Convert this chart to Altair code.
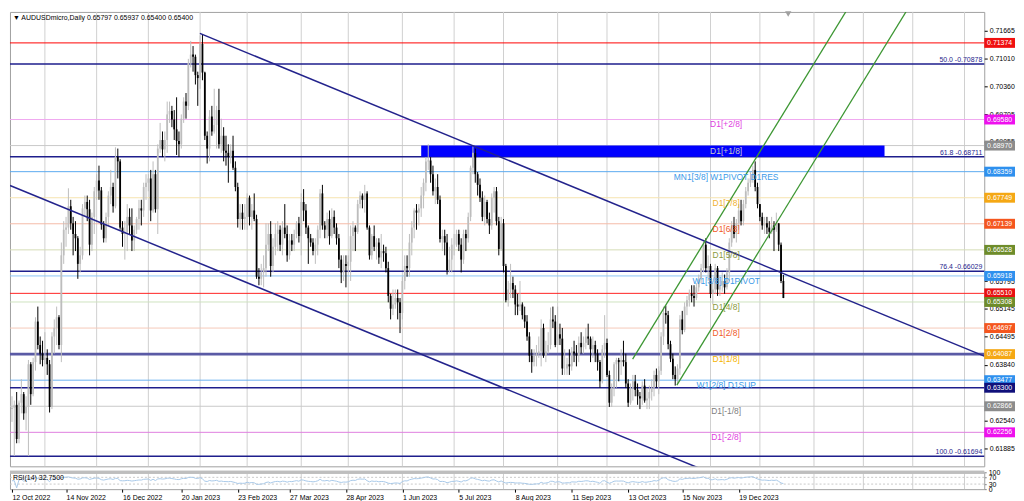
import altair as alt
import pandas as pd
import numpy as np

# ---------------- data ----------------
header_text = "\u25BC AUDUSDmicro,Daily  0.65797 0.65937 0.65400 0.65400"
rsi_text = "RSI(14) 32.7500"
start_date = "2022-10-12"
first_open = 0.6280

closes = [
    0.6283, 0.6290, 0.6210, 0.6295, 0.6315, 0.6270, 0.6285, 0.6385, 0.6315, 0.6390,
    0.6485, 0.6430, 0.6410, 0.6395, 0.6400, 0.6385, 0.6285, 0.6450, 0.6470, 0.6495,
    0.6430, 0.6640, 0.6700, 0.6705, 0.6755, 0.6715, 0.6690, 0.6680, 0.6620, 0.6640,
    0.6750, 0.6765, 0.6748, 0.6665, 0.6730, 0.6790, 0.6815, 0.6792, 0.6712, 0.6680,
    0.6730, 0.6780, 0.6800, 0.6755, 0.6870, 0.6860, 0.6705, 0.6690, 0.6695, 0.6730,
    0.6710, 0.6675, 0.6700, 0.6725, 0.6750, 0.6745, 0.6800, 0.6810, 0.6820, 0.6745,
    0.6830, 0.6748, 0.6890, 0.6910, 0.6888, 0.6910, 0.6970, 0.6978, 0.6958, 0.6935,
    0.6908, 0.6900, 0.6960, 0.7000, 0.6990, 0.7090, 0.7110, 0.7105, 0.7062, 0.7055,
    0.7135, 0.7068, 0.6920, 0.6890, 0.6965, 0.6930, 0.6945, 0.6980, 0.6900, 0.6920,
    0.6885, 0.6880, 0.6870, 0.6885, 0.6845, 0.6800, 0.6725, 0.6740, 0.6725, 0.6730,
    0.6775, 0.6730, 0.6745, 0.6725, 0.6590, 0.6585, 0.6600, 0.6610, 0.6665, 0.6690,
    0.6615, 0.6660, 0.6690, 0.6700, 0.6665, 0.6705, 0.6690, 0.6640, 0.6675, 0.6665,
    0.6690, 0.6715, 0.6685, 0.6765, 0.6745, 0.6705, 0.6680, 0.6670, 0.6650, 0.6665,
    0.6700, 0.6785, 0.6710, 0.6700, 0.6725, 0.6685, 0.6730, 0.6705, 0.6680, 0.6630,
    0.6600, 0.6620, 0.6615, 0.6625, 0.6685, 0.6705, 0.6695, 0.6760, 0.6780, 0.6770,
    0.6785, 0.6705, 0.6640, 0.6685, 0.6660, 0.6670, 0.6635, 0.6650, 0.6645, 0.6610,
    0.6545, 0.6515, 0.6525, 0.6540, 0.6530, 0.6505, 0.6580, 0.6615, 0.6610, 0.6670,
    0.6705, 0.6745, 0.6740, 0.6750, 0.6780, 0.6810, 0.6860, 0.6862, 0.6830, 0.6790,
    0.6800, 0.6770, 0.6678, 0.6685, 0.6670, 0.6605, 0.6630, 0.6665, 0.6665, 0.6690,
    0.6665, 0.6630, 0.6690, 0.6680, 0.6730, 0.6845, 0.6880, 0.6830, 0.6805, 0.6775,
    0.6730, 0.6765, 0.6725, 0.6710, 0.6775, 0.6790, 0.6720, 0.6655, 0.6715, 0.6615,
    0.6535, 0.6560, 0.6575, 0.6560, 0.6525, 0.6520, 0.6525, 0.6500, 0.6485, 0.6450,
    0.6405, 0.6390, 0.6405, 0.6410, 0.6415, 0.6470, 0.6405, 0.6415, 0.6430, 0.6490,
    0.6485, 0.6430, 0.6455, 0.6445, 0.6375, 0.6375, 0.6385, 0.6380, 0.6415, 0.6410,
    0.6405, 0.6435, 0.6425, 0.6435, 0.6450, 0.6445, 0.6420, 0.6430, 0.6410, 0.6390,
    0.6345, 0.6420, 0.6435, 0.6360, 0.6295, 0.6330, 0.6385, 0.6395, 0.6390, 0.6395,
    0.6390, 0.6340, 0.6295, 0.6330, 0.6345, 0.6325, 0.6310, 0.6305, 0.6335, 0.6300,
    0.6305, 0.6320, 0.6330, 0.6360, 0.6345, 0.6370, 0.6450, 0.6505, 0.6500, 0.6432,
    0.6398, 0.6360, 0.6350, 0.6375, 0.6490, 0.6465, 0.6520, 0.6535, 0.6550, 0.6545,
    0.6540, 0.6565, 0.6585, 0.6610, 0.6665, 0.6610, 0.6615, 0.6550, 0.6560, 0.6610,
    0.6560, 0.6570, 0.6580, 0.6565, 0.6600, 0.6670, 0.6710, 0.6690, 0.6715, 0.6745,
    0.6720, 0.6760, 0.6790, 0.6810, 0.6820, 0.6840, 0.6800, 0.6760, 0.6730, 0.6710,
    0.6715, 0.6705, 0.6695, 0.6710, 0.6700, 0.6715, 0.6665, 0.6580, 0.6540,
]

highs = [
    0.6310, 0.6300, 0.6320, 0.6300, 0.6350, 0.6320, 0.6310, 0.6395, 0.6390, 0.6400,
    0.6495, 0.6520, 0.6450, 0.6440, 0.6460, 0.6420, 0.6395, 0.6460, 0.6490, 0.6520,
    0.6500, 0.6670, 0.6720, 0.6730, 0.6797, 0.6770, 0.6730, 0.6720, 0.6685, 0.6660,
    0.6760, 0.6780, 0.6780, 0.6770, 0.6740, 0.6800, 0.6830, 0.6850, 0.6800, 0.6720,
    0.6740, 0.6790, 0.6840, 0.6810, 0.6893, 0.6890, 0.6865, 0.6720, 0.6720, 0.6760,
    0.6750, 0.6750, 0.6710, 0.6730, 0.6770, 0.6770, 0.6810, 0.6830, 0.6830, 0.6840,
    0.6860, 0.6840, 0.6900, 0.6950, 0.6930, 0.6930, 0.7000, 0.7000, 0.6990, 0.6980,
    0.7010, 0.6930, 0.6970, 0.7010, 0.7020, 0.7100, 0.7142, 0.7130, 0.7110, 0.7070,
    0.7155, 0.7158, 0.7070, 0.6930, 0.6980, 0.6990, 0.7030, 0.6990, 0.7030, 0.6960,
    0.6940, 0.6920, 0.6900, 0.6900, 0.6920, 0.6860, 0.6810, 0.6760, 0.6760, 0.6760,
    0.6785, 0.6780, 0.6760, 0.6785, 0.6735, 0.6610, 0.6620, 0.6640, 0.6715, 0.6715,
    0.6720, 0.6680, 0.6715, 0.6720, 0.6710, 0.6720, 0.6760, 0.6710, 0.6690, 0.6690,
    0.6700, 0.6720, 0.6730, 0.6785, 0.6795, 0.6760, 0.6710, 0.6690, 0.6680, 0.6680,
    0.6710, 0.6795, 0.6805, 0.6720, 0.6740, 0.6745, 0.6750, 0.6745, 0.6715, 0.6690,
    0.6640, 0.6640, 0.6640, 0.6640, 0.6710, 0.6720, 0.6710, 0.6770, 0.6790, 0.6785,
    0.6805, 0.6790, 0.6710, 0.6690, 0.6710, 0.6680, 0.6680, 0.6690, 0.6665, 0.6660,
    0.6625, 0.6550, 0.6560, 0.6560, 0.6560, 0.6540, 0.6590, 0.6640, 0.6640, 0.6690,
    0.6720, 0.6750, 0.6760, 0.6760, 0.6800, 0.6820, 0.6870, 0.6900, 0.6870, 0.6850,
    0.6820, 0.6830, 0.6780, 0.6700, 0.6700, 0.6690, 0.6660, 0.6680, 0.6690, 0.6700,
    0.6700, 0.6680, 0.6700, 0.6700, 0.6740, 0.6850, 0.6895, 0.6890, 0.6835, 0.6820,
    0.6790, 0.6780, 0.6770, 0.6740, 0.6785, 0.6800, 0.6800, 0.6730, 0.6730, 0.6725,
    0.6620, 0.6580, 0.6620, 0.6590, 0.6570, 0.6550, 0.6580, 0.6530, 0.6520, 0.6500,
    0.6460, 0.6420, 0.6420, 0.6430, 0.6450, 0.6490, 0.6480, 0.6440, 0.6460, 0.6518,
    0.6520, 0.6500, 0.6520, 0.6480, 0.6470, 0.6420, 0.6400, 0.6420, 0.6425, 0.6440,
    0.6430, 0.6450, 0.6460, 0.6450, 0.6470, 0.6480, 0.6450, 0.6450, 0.6440, 0.6420,
    0.6395, 0.6430, 0.6500, 0.6445, 0.6370, 0.6340, 0.6390, 0.6400, 0.6400, 0.6420,
    0.6440, 0.6410, 0.6350, 0.6340, 0.6360, 0.6360, 0.6340, 0.6320, 0.6345, 0.6350,
    0.6330, 0.6335, 0.6350, 0.6370, 0.6375, 0.6380, 0.6460, 0.6520, 0.6522, 0.6510,
    0.6440, 0.6410, 0.6380, 0.6385, 0.6500, 0.6510, 0.6530, 0.6545, 0.6560, 0.6570,
    0.6570, 0.6575, 0.6595, 0.6620, 0.6675, 0.6680, 0.6640, 0.6620, 0.6575, 0.6620,
    0.6615, 0.6590, 0.6600, 0.6595, 0.6610, 0.6680, 0.6720, 0.6730, 0.6725, 0.6760,
    0.6770, 0.6770, 0.6800, 0.6820, 0.6835, 0.6850, 0.6860, 0.6810, 0.6760, 0.6740,
    0.6730, 0.6730, 0.6720, 0.6730, 0.6720, 0.6740, 0.6710, 0.6670, 0.6594,
]

lows = [
    0.6250, 0.6170, 0.6200, 0.6200, 0.6270, 0.6255, 0.6230, 0.6170, 0.6290, 0.6310,
    0.6370, 0.6420, 0.6385, 0.6380, 0.6385, 0.6360, 0.6272, 0.6280, 0.6410, 0.6430,
    0.6420, 0.6390, 0.6620, 0.6660, 0.6690, 0.6700, 0.6640, 0.6650, 0.6585, 0.6600,
    0.6630, 0.6730, 0.6720, 0.6640, 0.6650, 0.6690, 0.6770, 0.6770, 0.6700, 0.6670,
    0.6670, 0.6710, 0.6760, 0.6740, 0.6750, 0.6820, 0.6700, 0.6660, 0.6630, 0.6650,
    0.6690, 0.6650, 0.6650, 0.6690, 0.6700, 0.6710, 0.6730, 0.6770, 0.6790, 0.6720,
    0.6740, 0.6740, 0.6690, 0.6880, 0.6870, 0.6860, 0.6880, 0.6950, 0.6940, 0.6910,
    0.6875, 0.6870, 0.6890, 0.6950, 0.6960, 0.6980, 0.7080, 0.7070, 0.7040, 0.6990,
    0.7030, 0.7050, 0.6910, 0.6855, 0.6860, 0.6920, 0.6925, 0.6890, 0.6890, 0.6880,
    0.6860, 0.6850, 0.6810, 0.6855, 0.6840, 0.6790, 0.6705, 0.6700, 0.6700, 0.6700,
    0.6700, 0.6710, 0.6700, 0.6720, 0.6585, 0.6570, 0.6570, 0.6565, 0.6590, 0.6650,
    0.6590, 0.6600, 0.6640, 0.6650, 0.6650, 0.6640, 0.6680, 0.6625, 0.6630, 0.6650,
    0.6650, 0.6680, 0.6670, 0.6640, 0.6720, 0.6690, 0.6620, 0.6660, 0.6640, 0.6620,
    0.6640, 0.6680, 0.6700, 0.6680, 0.6680, 0.6665, 0.6680, 0.6690, 0.6665, 0.6610,
    0.6575, 0.6580, 0.6565, 0.6600, 0.6580, 0.6650, 0.6650, 0.6690, 0.6750, 0.6750,
    0.6740, 0.6700, 0.6630, 0.6630, 0.6650, 0.6630, 0.6620, 0.6610, 0.6625, 0.6600,
    0.6530, 0.6490, 0.6500, 0.6515, 0.6490, 0.6458, 0.6490, 0.6560, 0.6590, 0.6590,
    0.6640, 0.6680, 0.6700, 0.6710, 0.6730, 0.6750, 0.6790, 0.6840, 0.6810, 0.6780,
    0.6760, 0.6760, 0.6670, 0.6650, 0.6640, 0.6595, 0.6600, 0.6600, 0.6640, 0.6660,
    0.6650, 0.6600, 0.6620, 0.6650, 0.6670, 0.6720, 0.6830, 0.6810, 0.6780, 0.6765,
    0.6720, 0.6710, 0.6715, 0.6690, 0.6700, 0.6740, 0.6710, 0.6640, 0.6650, 0.6600,
    0.6530, 0.6520, 0.6540, 0.6540, 0.6500, 0.6500, 0.6510, 0.6490, 0.6470, 0.6440,
    0.6390, 0.6365, 0.6380, 0.6380, 0.6400, 0.6380, 0.6400, 0.6390, 0.6410, 0.6420,
    0.6470, 0.6425, 0.6440, 0.6430, 0.6360, 0.6360, 0.6360, 0.6360, 0.6370, 0.6390,
    0.6380, 0.6390, 0.6410, 0.6410, 0.6420, 0.6430, 0.6390, 0.6400, 0.6390, 0.6370,
    0.6330, 0.6340, 0.6400, 0.6355, 0.6285, 0.6285, 0.6310, 0.6330, 0.6345, 0.6360,
    0.6380, 0.6330, 0.6285, 0.6290, 0.6300, 0.6310, 0.6290, 0.6280, 0.6290, 0.6295,
    0.6280, 0.6280, 0.6300, 0.6310, 0.6330, 0.6315, 0.6360, 0.6430, 0.6480, 0.6420,
    0.6390, 0.6350, 0.6335, 0.6338, 0.6360, 0.6455, 0.6460, 0.6500, 0.6520, 0.6530,
    0.6520, 0.6535, 0.6555, 0.6575, 0.6600, 0.6600, 0.6580, 0.6540, 0.6525, 0.6550,
    0.6545, 0.6545, 0.6555, 0.6550, 0.6560, 0.6580, 0.6660, 0.6680, 0.6670, 0.6700,
    0.6710, 0.6710, 0.6750, 0.6780, 0.6800, 0.6810, 0.6790, 0.6750, 0.6720, 0.6700,
    0.6690, 0.6690, 0.6680, 0.6690, 0.6650, 0.6695, 0.6650, 0.6575, 0.6540,
]

# horizontal levels
level_prices = [0.71374, 0.70878, 0.69580, 0.68970, 0.68711, 0.68359, 0.67749, 0.67139,
                0.66528, 0.66029, 0.65918, 0.65510, 0.65308, 0.64697, 0.64087, 0.64087,
                0.63477, 0.63300, 0.62866, 0.62256, 0.61694]
level_colors = ["#FF0000", "#1E1E8C", "#F0A8F0", "#C8C8C8", "#1E1E8C", "#5AAAF0", "#F5E3B0", "#F5BBA8",
                "#D5DCB5", "#1E1E8C", "#8CC4F5", "#FF2020", "#CFE3C0", "#F5C8B8", "#F5E3B0", "#5A5AA5",
                "#6AB0F0", "#1E1E8C", "#C8C8C8", "#E080E0", "#1E1E8C"]
level_widths = [1, 1.5, 1, 1, 1.5, 1, 1, 1,
                1, 1.5, 1, 1, 1, 1, 1, 3,
                1, 1.5, 1, 1, 1.5]

# price tags on the right scale
tag_prices = [0.71374, 0.69580, 0.68970, 0.68359, 0.67749, 0.67139, 0.66528, 0.65918,
              0.65510, 0.65308, 0.64697, 0.64087, 0.63477, 0.63300, 0.62866, 0.62256]
tag_colors = ["#F01010", "#EE10EE", "#8C8C8C", "#2E90EE", "#F5A814", "#F5561E", "#6E8C2A", "#2E90EE",
              "#E81010", "#6E8C2A", "#F5561E", "#F5A814", "#2E90EE", "#10107A", "#8C8C8C", "#EE10EE"]

# Murrey math labels
mm_texts = ["D1[+2/8]", "D1[+1/8]", "MN1[3/8] W1PIVOT D1RES", "D1[7/8]", "D1[6/8]", "D1[5/8]",
            "W1[3/8] D1PIVOT", "D1[4/8]", "D1[2/8]", "D1[1/8]", "W1[2/8] D1SUP", "D1[-1/8]", "D1[-2/8]"]
mm_prices = [0.69580, 0.68970, 0.68359, 0.67749, 0.67139, 0.66528,
             0.65918, 0.65308, 0.64697, 0.64087, 0.63477, 0.62866, 0.62256]
mm_colors = ["#E040E0", "#C8C8C8", "#3A9AE8", "#F0B030", "#F05A28", "#8A9A40",
             "#3A9AE8", "#8A9A40", "#F05A28", "#F5B400", "#3A9AE8", "#808080", "#E040E0"]

# Fibonacci labels
fib_texts = ["50.0 -0.70878", "61.8 -0.68711", "76.4 -0.66029", "100.0 -0.61694"]
fib_prices = [0.70878, 0.68711, 0.66029, 0.61694]

# trend lines (bar index, price)
trend_x1 = [79.9, -0.84, 263.9, 282.7]
trend_y1 = [0.71597, 0.68035, 0.63972, 0.63362]
trend_x2 = [413.4, 293.3, 354.5, 380.1]
trend_y2 = [0.64040, 0.61392, 0.72099, 0.72099]
trend_colors = ["#23238C", "#23238C", "#3C9632", "#3C9632"]
trend_widths = [1.5, 1.5, 1.3, 1.3]

# blue zone
zone_x = [174, 371]
zone_y = [0.68711, 0.68970]

# right-scale labels that are not entirely hidden under the price tags
price_ticks = [0.71665, 0.71010, 0.70360, 0.69705, 0.69055, 0.68405,
               0.65795, 0.65145, 0.64495, 0.63840, 0.62540, 0.61885]
date_labels = ["12 Oct 2022", "14 Nov 2022", "16 Dec 2022", "20 Jan 2023", "23 Feb 2023",
               "27 Mar 2023", "28 Apr 2023", "1 Jun 2023", "5 Jul 2023", "8 Aug 2023",
               "11 Sep 2023", "13 Oct 2023", "15 Nov 2023", "19 Dec 2023"]
rsi_ticks = [0, 30, 70, 100]

# ---------------- layout constants ----------------
W = 982
H_MAIN = 458
H_RSI = 17
X_MIN, X_MAX = -0.84, 413.4
Y_MIN, Y_MAX = 0.61460, 0.72099
FONT = "Liberation Sans"

# ---------------- derived tables ----------------
n = min(len(closes), len(highs), len(lows))
opens = [first_open] + closes[:n - 1]
cdf = pd.DataFrame({
    "i": np.arange(n),
    "open": opens[:n],
    "close": closes[:n],
})
cdf["high"] = np.maximum.reduce([np.array(highs[:n]), cdf["open"].values, cdf["close"].values])
cdf["low"] = np.minimum.reduce([np.array(lows[:n]), cdf["open"].values, cdf["close"].values])
cdf["top"] = cdf[["open", "close"]].max(axis=1)
cdf["bot"] = cdf[["open", "close"]].min(axis=1)
cdf["col"] = np.where(cdf["close"] >= cdf["open"], "#BDBDBD", "#000000")

cs = pd.Series(closes[:n])
d = cs.diff().fillna(0)
up = d.clip(lower=0).ewm(alpha=1 / 14, adjust=False).mean()
dn = (-d.clip(upper=0)).ewm(alpha=1 / 14, adjust=False).mean()
rsi = (100 - 100 / (1 + up / dn.replace(0, np.nan))).fillna(50)
rdf = pd.DataFrame({"i": np.arange(n), "rsi": rsi.values})

dates = pd.bdate_range(start_date, periods=430)
pos = {dt: k for k, dt in enumerate(dates)}
label_idx = [pos[pd.to_datetime(s, format="%d %b %Y")] for s in date_labels]
month_idx = [k for k in range(1, len(dates))
             if dates[k].month != dates[k - 1].month and k <= X_MAX]
gdf = pd.DataFrame({"i": month_idx})

label_expr = " : ".join([f"datum.value == {k} ? '{s}'" for k, s in zip(label_idx, date_labels)]) + " : ''"

ldf = pd.DataFrame({"p": level_prices, "c": level_colors, "w": level_widths})
tdf = pd.DataFrame({"p": tag_prices, "c": tag_colors,
                    "t": [f"{v:.5f}" for v in tag_prices]})
mdf = pd.DataFrame({"p": mm_prices, "t": mm_texts, "c": mm_colors})
fdf = pd.DataFrame({"p": fib_prices, "t": fib_texts})
trdf = pd.DataFrame({"x1": trend_x1, "y1": trend_y1, "x2": trend_x2, "y2": trend_y2,
                     "c": trend_colors, "w": trend_widths})
zdf = pd.DataFrame({"x1": [zone_x[0]], "x2": [zone_x[1]], "y1": [zone_y[0]], "y2": [zone_y[1]]})
hdf = pd.DataFrame({"t": [header_text]})
rtdf = pd.DataFrame({"t": [rsi_text]})
rlev = pd.DataFrame({"v": [30, 70]})

xs = alt.Scale(domain=[X_MIN, X_MAX], nice=False, zero=False)
ys = alt.Scale(domain=[Y_MIN, Y_MAX], nice=False, zero=False)
yaxis = alt.Axis(orient="right", values=price_ticks, format=".5f", title=None, grid=False,
                 domain=False, tickSize=3, tickColor="#000000", labelPadding=2,
                 labelFontSize=7, labelFont=FONT, labelColor="#000000", labelOverlap=False)


def X(f):
    return alt.X(f, type="quantitative", scale=xs, axis=None)


def Y(f):
    return alt.Y(f, type="quantitative", scale=ys, axis=yaxis)


grid = alt.Chart(gdf).mark_rule(color="#CFCFCF", strokeWidth=1).encode(x=X("i"))

levels = alt.Chart(ldf).mark_rule().encode(
    y=Y("p"), color=alt.Color("c:N", scale=None), strokeWidth=alt.StrokeWidth("w:Q", scale=None))

zone = alt.Chart(zdf).mark_rect(color="#0000FF", clip=True).encode(
    x=X("x1"), x2="x2", y=Y("y1"), y2="y2")

wicks = alt.Chart(cdf).mark_rule(strokeWidth=1).encode(
    x=X("i"), y=Y("low"), y2="high", color=alt.Color("col:N", scale=None))
bodies = alt.Chart(cdf).mark_rule(strokeWidth=1.8).encode(
    x=X("i"), y=Y("bot"), y2="top", color=alt.Color("col:N", scale=None))

trends = alt.Chart(trdf).mark_rule(clip=True).encode(
    x=X("x1"), y=Y("y1"), x2="x2", y2="y2",
    color=alt.Color("c:N", scale=None), strokeWidth=alt.StrokeWidth("w:Q", scale=None))

mm_lab = alt.Chart(mdf).mark_text(fontSize=8.5, font=FONT, align="center", baseline="middle", dy=5).encode(
    x=alt.value(W * 727 / 989), y=Y("p"), text="t:N", color=alt.Color("c:N", scale=None))

fib_lab = alt.Chart(fdf).mark_text(fontSize=7, font=FONT, align="right", baseline="bottom", dy=-1,
                                   color="#1E1E8C").encode(
    x=alt.value(W - 2), y=Y("p"), text="t:N")

tag_box = alt.Chart(tdf).mark_point(shape="M-1.55,-0.5H1.55V0.5H-1.55Z", size=400, filled=True,
                                    opacity=1, strokeWidth=0).encode(
    x=alt.value(W + 15.5), y=Y("p"), color=alt.Color("c:N", scale=None))
tag_txt = alt.Chart(tdf).mark_text(fontSize=7, font=FONT, color="#FFFFFF", align="center",
                                   baseline="middle").encode(
    x=alt.value(W + 15.5), y=Y("p"), text="t:N")

header = alt.Chart(hdf).mark_text(fontSize=7, font=FONT, color="#000000", align="left",
                                  baseline="middle").encode(
    x=alt.value(3), y=alt.value(6), text="t:N")

shift_mark = alt.Chart(hdf).mark_point(shape="triangle-down", filled=True, color="#A0A0A0",
                                       size=40, opacity=1).encode(
    x=alt.value(W * 790 / 989), y=alt.value(2))

main = alt.layer(grid, levels, zone, wicks, bodies, trends, mm_lab, fib_lab,
                 tag_box, tag_txt, header, shift_mark).properties(width=W, height=H_MAIN)

# ---------------- RSI panel ----------------
rxs_axis = alt.Axis(values=label_idx, labelExpr=label_expr, labelAlign="left", labelFontSize=7,
                    labelFont=FONT, labelColor="#000000", tickSize=3, tickColor="#000000",
                    labelPadding=1, grid=False, domain=False, title=None,
                    labelOverlap=False, labelFlush=False)
ry_axis = alt.Axis(orient="right", values=rsi_ticks, title=None, grid=False, domain=False,
                   tickSize=2, labelFontSize=7, labelFont=FONT, labelColor="#000000",
                   labelPadding=2, labelOverlap=False, labelFlush=False)
rys = alt.Scale(domain=[0, 100], nice=False, zero=False)

r_grid = alt.Chart(gdf).mark_rule(color="#CFCFCF", strokeWidth=1).encode(
    x=alt.X("i:Q", scale=xs, axis=rxs_axis))
r_lev = alt.Chart(rlev).mark_rule(color="#C8C8C8", strokeDash=[2, 2], strokeWidth=1).encode(
    y=alt.Y("v:Q", scale=rys, axis=ry_axis))
r_line = alt.Chart(rdf).mark_line(color="#A8C8E8", strokeWidth=1).encode(
    x=alt.X("i:Q", scale=xs, axis=rxs_axis), y=alt.Y("rsi:Q", scale=rys, axis=ry_axis))
r_sep = alt.Chart(rlev).mark_rule(color="#BEBEBE", strokeWidth=3).encode(
    x=alt.value(0), x2=alt.value(W), y=alt.value(0))
r_txt = alt.Chart(rtdf).mark_text(fontSize=7, font=FONT, color="#000000", align="left",
                                  baseline="middle").encode(
    x=alt.value(3), y=alt.value(6), text="t:N")

rsi_panel = alt.layer(r_grid, r_lev, r_line, r_sep, r_txt).properties(width=W, height=H_RSI)

chart = alt.vconcat(main, rsi_panel, spacing=0).properties(
    padding=0, background="#FFFFFF"
).configure_view(stroke="#A0A0A0", strokeWidth=1)

chart.save("out.html", embed_options={"renderer": "svg", "actions": False})
